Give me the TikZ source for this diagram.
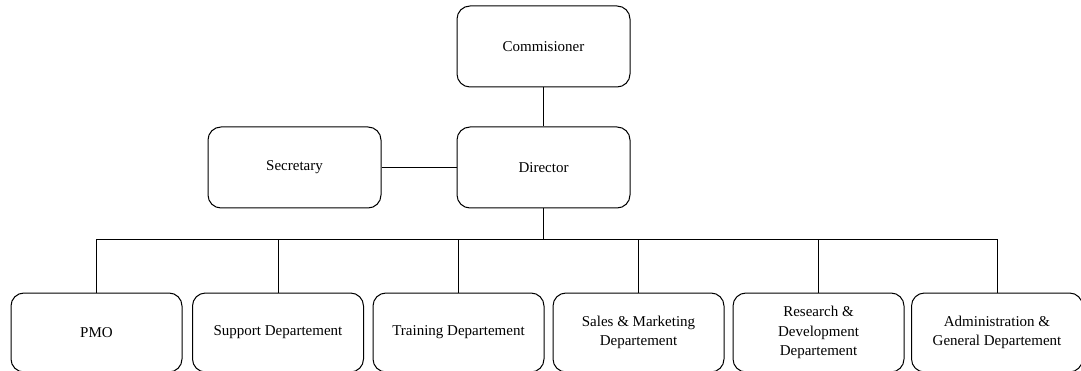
\documentclass[tikz,border=0pt]{standalone}
\usepackage{fontspec}
\setmainfont{Liberation Serif}
\usetikzlibrary{positioning}
\tikzset{
  orgbox/.style={draw, rounded corners=13pt, line width=1pt, minimum width=173pt, minimum height=81pt, align=center, font=\fontsize{15}{19.5}\selectfont},
  deptbox/.style={orgbox, minimum width=171pt, minimum height=79pt},
  link/.style={line width=1pt}
}
\begin{document}
\begin{tikzpicture}[x=1pt,y=-1pt]
  \useasboundingbox (0,0) rectangle (1081,371);
  % top of the chart
  \node[orgbox] (com) at (543.5,46.5) {Commisioner};
  \node[orgbox] (dir) at (543.5,167.5) {Director};
  \node[orgbox] (sec) at (294.5,167.5) {Secretary};
  % departements
  \node[deptbox] (pmo) at (96.5,332.5) {PMO};
  \node[deptbox] (sup) at (278,332.5) {Support Departement};
  \node[deptbox] (trn) at (458.5,332.5) {Training Departement};
  \node[deptbox] (sal) at (638.5,332.5) {Sales \& Marketing\\Departement};
  \node[deptbox] (rnd) at (818.5,332.5) {Research \&\\Development\\Departement};
  \node[deptbox] (adm) at (997,332.5) {Administration \&\\General Departement};
  \coordinate (bus) at (543.5,240);
  \draw[link] (com) -- (dir);
  \draw[link] (sec) -- (dir);
  \draw[link] (dir) -- (bus);
  \foreach \d in {pmo,sup,trn,sal,rnd,adm}
    \draw[link] (bus) -| (\d.north);
\end{tikzpicture}
\end{document}
